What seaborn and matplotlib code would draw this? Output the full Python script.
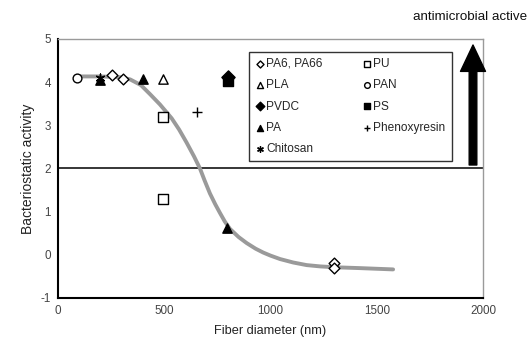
import matplotlib
matplotlib.use("Agg")
import matplotlib.pyplot as plt
import seaborn as sns
import pandas as pd

sns.set_theme(style="white")
plt.rcParams['font.family'] = ['Liberation Sans', 'DejaVu Sans']
plt.rcParams['axes.unicode_minus'] = False

# ---- data ----
series_names = ["PA6, PA66", "PLA", "PVDC", "PA", "Chitosan",
                "PU", "PAN", "PS", "Phenoxyresin"]
pa6_x = [253, 306, 1300, 1300]
pa6_y = [4.17, 4.08, -0.2, -0.3]
pla_x = [495]
pla_y = [4.08]
pvdc_x = [802]
pvdc_y = [4.12]
pa_x = [198, 400, 794]
pa_y = [4.05, 4.08, 0.63]
chitosan_x = [200]
chitosan_y = [4.1]
pu_x = [495, 495]
pu_y = [3.2, 1.28]
pan_x = [90]
pan_y = [4.1]
ps_x = [802]
ps_y = [4.03]
phenoxy_x = [653]
phenoxy_y = [3.3]

curve_x = [100, 200, 300, 340, 390, 433, 480, 535, 570, 605, 640, 668, 690, 715,
           740, 762, 785, 809, 850, 888, 930, 966, 1000, 1045, 1107, 1170, 1233,
           1300, 1421, 1577]
curve_y = [4.13, 4.13, 4.11, 4.06, 3.93, 3.72, 3.48, 3.16, 2.9, 2.6, 2.28, 2.0,
           1.72, 1.42, 1.17, 0.97, 0.77, 0.6, 0.41, 0.27, 0.14, 0.05, -0.02,
           -0.1, -0.18, -0.24, -0.27, -0.29, -0.31, -0.34]

threshold = 2
x_ticks = [0, 500, 1000, 1500, 2000]
y_ticks = [-1, 0, 1, 2, 3, 4, 5]

# ---- figure ----
fig = plt.figure(figsize=(5.27, 3.44), dpi=100)
ax = fig.add_axes([0.110, 0.134, 0.8065, 0.753])

curve_df = pd.DataFrame({"x": curve_x, "y": curve_y})
sns.lineplot(data=curve_df, x="x", y="y", ax=ax, color="#9a9a9a", lw=2.8,
             zorder=2, legend=False)
ax.axhline(threshold, color="black", lw=1.1, zorder=1)

styles = {
    "PA6, PA66": dict(x=pa6_x, y=pa6_y, marker="D", fc="white", s=30),
    "PLA": dict(x=pla_x, y=pla_y, marker="^", fc="white", s=45),
    "PVDC": dict(x=pvdc_x, y=pvdc_y, marker="D", fc="black", s=45),
    "PA": dict(x=pa_x, y=pa_y, marker="^", fc="black", s=45),
    "Chitosan": dict(x=chitosan_x, y=chitosan_y, marker=(6, 2, 0), fc="black", s=40),
    "PU": dict(x=pu_x, y=pu_y, marker="s", fc="white", s=45),
    "PAN": dict(x=pan_x, y=pan_y, marker="o", fc="white", s=40),
    "PS": dict(x=ps_x, y=ps_y, marker="s", fc="black", s=45),
    "Phenoxyresin": dict(x=phenoxy_x, y=phenoxy_y, marker="+", fc="black", s=55),
}
for name in series_names:
    st = styles[name]
    sns.scatterplot(x=st["x"], y=st["y"], ax=ax, marker=st["marker"], s=st["s"],
                    facecolor=st["fc"], edgecolor="black", color="black",
                    linewidth=1.0, zorder=3, label=name)

ax.set_xlim(0, 2000)
ax.set_ylim(-1, 5)
ax.set_xticks(x_ticks)
ax.set_yticks(y_ticks)
ax.tick_params(axis="both", labelsize=8.4, colors="black", length=3, width=1,
               direction="inout", labelcolor="#444444")
ax.set_xlabel("Fiber diameter (nm)", fontsize=9.2, color="#222222", labelpad=6)
ax.set_ylabel("Bacteriostatic activity", fontsize=10, color="#222222", labelpad=4)

for side in ["left", "bottom"]:
    ax.spines[side].set_color("black")
    ax.spines[side].set_linewidth(1.5)
for side in ["top", "right"]:
    ax.spines[side].set_color("#9a9a9a")
    ax.spines[side].set_linewidth(1.0)

leg = ax.legend(ncol=2, loc="upper left", bbox_to_anchor=(249 / 527, 1 - 52 / 344),
                bbox_transform=fig.transFigure, borderaxespad=0, fontsize=8.6,
                frameon=True, fancybox=False, edgecolor="black",
                handletextpad=0.05, handlelength=0.9, columnspacing=3.3,
                labelspacing=0.78, borderpad=0.5, markerscale=0.65)
leg.get_frame().set_linewidth(1.0)

# arrow and annotation
ax.annotate("", xy=(473 / 527, 1 - 45 / 344), xytext=(473 / 527, 1 - 165 / 344),
            xycoords="figure fraction", textcoords="figure fraction",
            arrowprops=dict(width=5.5, headwidth=18, headlength=19, color="black"))
fig.text(527 / 527, 1 - 17 / 344, "antimicrobial active", ha="right", va="center",
         fontsize=9.6, color="#111111")

fig.savefig("out.png", dpi=100)
